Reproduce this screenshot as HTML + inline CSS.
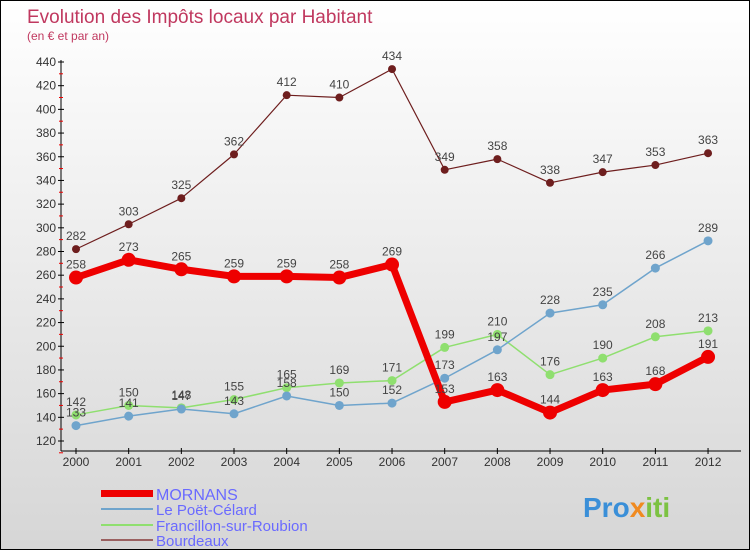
<!DOCTYPE html>
<html><head><meta charset="utf-8"><style>
body{margin:0}
#c{width:750px;height:550px;position:relative;overflow:hidden;box-sizing:border-box;border:1px solid #000;background:linear-gradient(#fff,#d6d6d6);font-family:"Liberation Sans",sans-serif}
svg text{font-family:"Liberation Sans",sans-serif}
</style></head><body>
<div id="c">
<svg id="s" width="750" height="550">
<text x="26" y="22" font-size="19" fill="#c0385f">Evolution des Impôts locaux par Habitant</text>
<text x="26" y="39" font-size="12" fill="#c0385f">(en € et par an)</text>
<g id="ax"></g><g id="series"></g>
<g>
<rect x="100" y="489" width="52" height="7" fill="#e00"/>
<text x="155" y="499" font-size="16" fill="#6a6aff">MORNANS</text>
<rect x="100" y="507" width="52" height="2" fill="#6fa4cc"/>
<text x="155" y="514" font-size="15" fill="#6a6aff">Le Poët-Célard</text>
<rect x="100" y="523" width="52" height="2" fill="#8fdf6f"/>
<text x="155" y="530" font-size="15" fill="#6a6aff">Francillon-sur-Roubion</text>
<rect x="100" y="538" width="52" height="2" fill="#9a6060"/>
<text x="155" y="545" font-size="15" fill="#6a6aff">Bourdeaux</text>
</g>
<text x="582" y="516" font-size="28" font-weight="bold" fill="#3a8fd8">Pro<tspan fill="#f08a20">x</tspan><tspan fill="#7cc242">iti</tspan></text>
</svg>
<script>
const years=[2000,2001,2002,2003,2004,2005,2006,2007,2008,2009,2010,2011,2012];
const mornans=[258,273,265,259,259,258,269,153,163,144,163,168,191];
const poet=[133,141,147,143,158,150,152,173,197,228,235,266,289];
const francillon=[142,150,148,155,165,169,171,199,210,176,190,208,213];
const bourdeaux=[282,303,325,362,412,410,434,349,358,338,347,353,363];
const yTicks=[120,140,160,180,200,220,240,260,280,300,320,340,360,380,400,420,440];
const NS="http://www.w3.org/2000/svg";
const X=i=>75+i*52.67, Y=v=>440-(v-120)*379/320;
function mk(t,a,p){const e=document.createElementNS(NS,t);for(const k in a)e.setAttribute(k,a[k]);p.appendChild(e);return e;}
const ax=document.getElementById('ax');
let l=mk('line',{x1:60,y1:Y(440)-2,x2:60,y2:450,stroke:'#000'},ax);


l=mk('line',{x1:60,y1:450,x2:740,y2:450,stroke:'#000'},ax);


yTicks.forEach(v=>{const y=Y(v);mk('line',{x1:57,y1:y,x2:63,y2:y,stroke:'#000'},ax);
mk('line',{x1:58,y1:y+11.8,x2:62,y2:y+11.8,stroke:'#e00'},ax);
const t=mk('text',{x:55,y:y+4,'font-size':12,fill:'#333','text-anchor':'end'},ax);t.textContent=v;

});
years.forEach((yr,i)=>{mk('line',{x1:X(i),y1:447,x2:X(i),y2:453,stroke:'#000'},ax);
const t=mk('text',{x:X(i),y:465,'font-size':12,fill:'#333','text-anchor':'middle'},ax);t.textContent=yr;

});
const sg=document.getElementById('series');
function draw(vals,color,w,r,name){const g=mk('g',{},sg);


mk('polyline',{points:vals.map((v,i)=>X(i)+','+Y(v)).join(' '),fill:'none',stroke:color,'stroke-width':w,'stroke-linejoin':'round'},g);
vals.forEach((v,i)=>{const c=mk('circle',{cx:X(i),cy:Y(v),r:r,fill:color},g);


const t=mk('text',{x:X(i),y:Y(v)-9,'font-size':12,fill:'#444','text-anchor':'middle'},g);t.textContent=v;

});}
draw(bourdeaux,'#6e1e1e',1.2,4,'bourdeaux');
draw(francillon,'#8fdf6f',1.5,4.5,'francillon');
draw(poet,'#6fa4cc',1.5,4.5,'le-poet-celard');
draw(mornans,'#ee0000',7,7,'mornans');
</script>
</div>
</body></html>
